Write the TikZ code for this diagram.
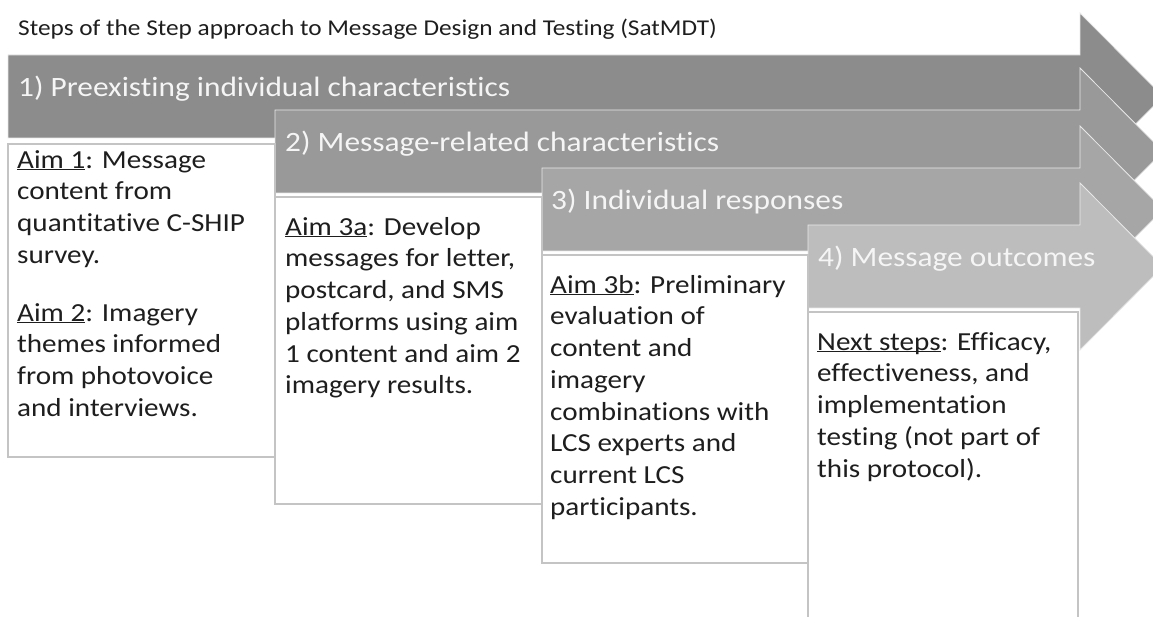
\documentclass[tikz,border=0pt]{standalone}
\usepackage{fontspec}
\setmainfont{Carlito}[FakeStretch=1.12,Ligatures=NoCommon]
\definecolor{arrowA}{HTML}{8C8C8C}
\definecolor{arrowB}{HTML}{999999}
\definecolor{arrowC}{HTML}{A6A6A6}
\definecolor{arrowD}{HTML}{BDBDBD}
\definecolor{boxgray}{HTML}{C4C4C4}
\definecolor{bodyink}{HTML}{1E1E1E}
\newcommand\aimul[1]{\underline{\smash{#1}}}
\newcommand\steparrow[3]{%
  \path[fill=#3, stepshape] (#1,#2) -- (1080,#2) -- (1080,{#2-42}) -- (1163,{#2+41.5})
    -- (1080,{#2+125}) -- (1080,{#2+83}) -- (#1,{#2+83}) -- cycle;}
\begin{document}
\begin{tikzpicture}[x=1pt,y=-1pt,
  stepshape/.style={draw=white!82!gray, line width=0.8pt},
  steplabel/.style={anchor=base west, inner sep=0pt, text=white!96!black,
    font=\fontsize{28}{34}\selectfont},
  aimbox/.style={draw=boxgray, line width=1.4pt, fill=white},
  aimtext/.style={anchor=north west, inner sep=0pt, align=left, text=bodyink,
    font=\fontsize{26}{31.7}\selectfont},
  titletext/.style={anchor=base west, inner sep=0pt, text=bodyink,
    font=\fontsize{22.6}{26}\selectfont}]
\useasboundingbox (0,0) rectangle (1153,617);
\clip (0,0) rectangle (1153,617);

\node[titletext] (title) at (18,36) {Steps of the Step approach to Message Design and Testing (SatMDT)};

% step arrows
\steparrow{8}{55}{arrowA}
\steparrow{275}{110}{arrowB}
\steparrow{542}{168}{arrowC}
\steparrow{808}{225}{arrowD}

\node[steplabel] (s1) at (18,97) {1) Preexisting individual characteristics};
\node[steplabel] (s2) at (285,152) {2) Message-related characteristics};
\node[steplabel] (s3) at (551,210) {3) Individual responses};
\node[steplabel] (s4) at (818,267) {4) Message outcomes};

% aim boxes
\draw[aimbox] (8,144) rectangle (275,457);
\draw[aimbox] (275,197) rectangle (542,504);
\draw[aimbox] (542,255) rectangle (808,563);
\draw[aimbox] (808,312) rectangle (1078,630);

\node[aimtext] (a1) at (17,{168-22.19}) {\strut\aimul{Aim 1}: Message\\ content from\\ quantitative C-SHIP\\ survey.\\[26pt]
  \aimul{Aim 2}: Imagery\\ themes informed\\ from photovoice\\ and interviews.};
\node[aimtext] (a3a) at (285,{235-22.19}) {\strut\aimul{Aim 3a}: Develop\\ messages for letter,\\ postcard, and SMS\\ platforms using aim\\ 1 content and aim 2\\ imagery results.};
\node[aimtext] (a3b) at (550,{293-22.19}) {\strut\aimul{Aim 3b}: Preliminary\\ evaluation of\\ content and\\ imagery\\ combinations with\\ LCS experts and\\ current LCS\\ participants.};
\node[aimtext] (nx) at (817,{350-22.19}) {\strut\aimul{Next steps}: Efficacy,\\ effectiveness, and\\ implementation\\ testing (not part of\\ this protocol).};
\end{tikzpicture}
\end{document}
